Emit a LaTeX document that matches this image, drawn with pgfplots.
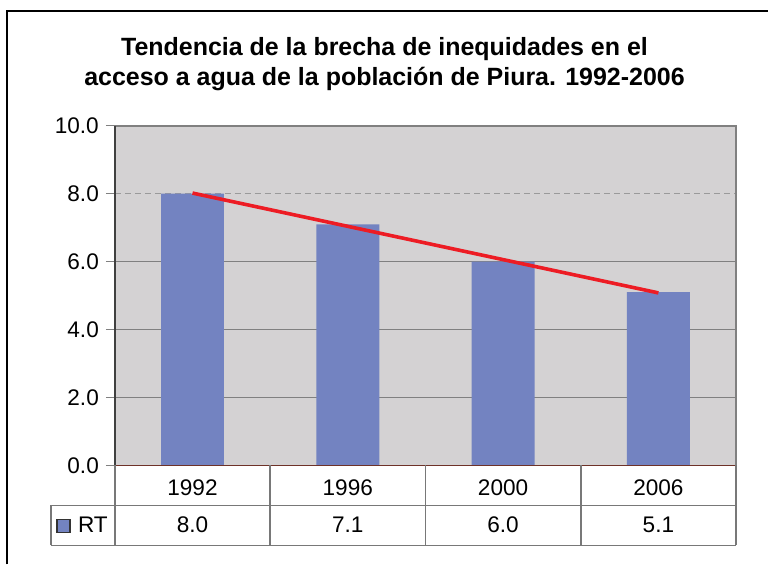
\documentclass[border=0pt]{standalone}
\usepackage{pgfplots}
\pgfplotsset{compat=1.18}
\usepackage{fontspec}
\setmainfont{Liberation Sans}

\definecolor{barblue}{RGB}{115,131,193}
\definecolor{bggray}{RGB}{212,210,211}
\definecolor{trendred}{RGB}{237,28,36}
\definecolor{axbrown}{RGB}{110,50,40}
\definecolor{gridgray}{RGB}{128,128,128}
\definecolor{tablegray}{RGB}{120,120,120}

\begin{document}
\begin{tikzpicture}
% pixel frame: 1px = 0.5pt, axis box corner at (115,466)
\begin{scope}[x=0.5pt,y=-0.5pt,shift={(-57.5pt,233pt)}]
  \useasboundingbox (0,0) rectangle (769,565);
\end{scope}

\begin{axis}[
    scale only axis,
    width=311pt, height=170pt,
    xmin=-0.5, xmax=3.5,
    ymin=0, ymax=10,
    axis background/.style={fill=bggray},
    axis line style={draw=none},
    xtick={0,1,2,3},
    xticklabels={1992,1996,2000,2006},
    xtick style={draw=none},
    x tick label style={anchor=center, yshift=-6.5pt},
    ytick={0,2,4,6,10},
    extra y ticks={8},
    extra y tick labels={8.0},
    extra y tick style={grid style={densely dashed, gridgray!80, line width=0.5pt}},
    yticklabel={\pgfmathprintnumber[fixed,fixed zerofill,precision=1]{\tick}},
    ytick pos=left,
    tick align=outside,
    major tick length=4.5pt,
    ytick style={gridgray, line width=0.6pt},
    ymajorgrids,
    grid style={gridgray, line width=0.7pt},
    tick label style={font=\fontsize{11.3}{13}\selectfont},
    /pgf/number format/assume math mode=true,
    clip=false,
    ]
  \addplot[ybar, bar width=31.5pt, fill=barblue, draw=none]
    coordinates {(0,8.0)(1,7.1)(2,6.0)(3,5.1)};
  \addplot[trendred, line width=1.8pt]
    coordinates {(0,8.02)(3,5.08)};
  \draw[gridgray, line width=0.9pt] (rel axis cs:0,1) -- (rel axis cs:1,1) -- (rel axis cs:1,0);
  \draw[black!75, line width=1.1pt] (rel axis cs:0,0) -- (rel axis cs:0,1);
  \draw[axbrown, line width=0.8pt] (rel axis cs:0,0) -- (rel axis cs:1,0);
\end{axis}

\begin{scope}[x=0.5pt,y=-0.5pt,shift={(-57.5pt,233pt)}]
  % outer frame
  \draw[black, line width=1pt] (7,565) -- (7,11) -- (769,11);
  % title
  \node[align=center, font=\fontsize{12.5}{15}\selectfont\bfseries] at (385,64)
    {Tendencia de la brecha de inequidades en el\\acceso a agua de la población de Piura. 1992-2006};
  % data table
  \draw[tablegray, line width=0.75pt]
    (51,506) -- (737,506)
    (51,546) -- (737,546)
    (51,506) -- (51,546)
    (115,466) -- (115,546)
    (270.5,466) -- (270.5,546)
    (426,466) -- (426,546)
    (581.5,466) -- (581.5,546)
    (737,466) -- (737,546);
  \draw[fill=barblue, draw=black!80, line width=0.6pt] (57,520) rectangle (70,533);
  \begin{scope}[every node/.style={anchor=base, font=\fontsize{11.3}{13}\selectfont}]
    \node at (93,533) {RT};
    \node at (192.75,533) {8.0};
    \node at (348.25,533) {7.1};
    \node at (503.75,533) {6.0};
    \node at (659.25,533) {5.1};
  \end{scope}
\end{scope}
\end{tikzpicture}
\end{document}
